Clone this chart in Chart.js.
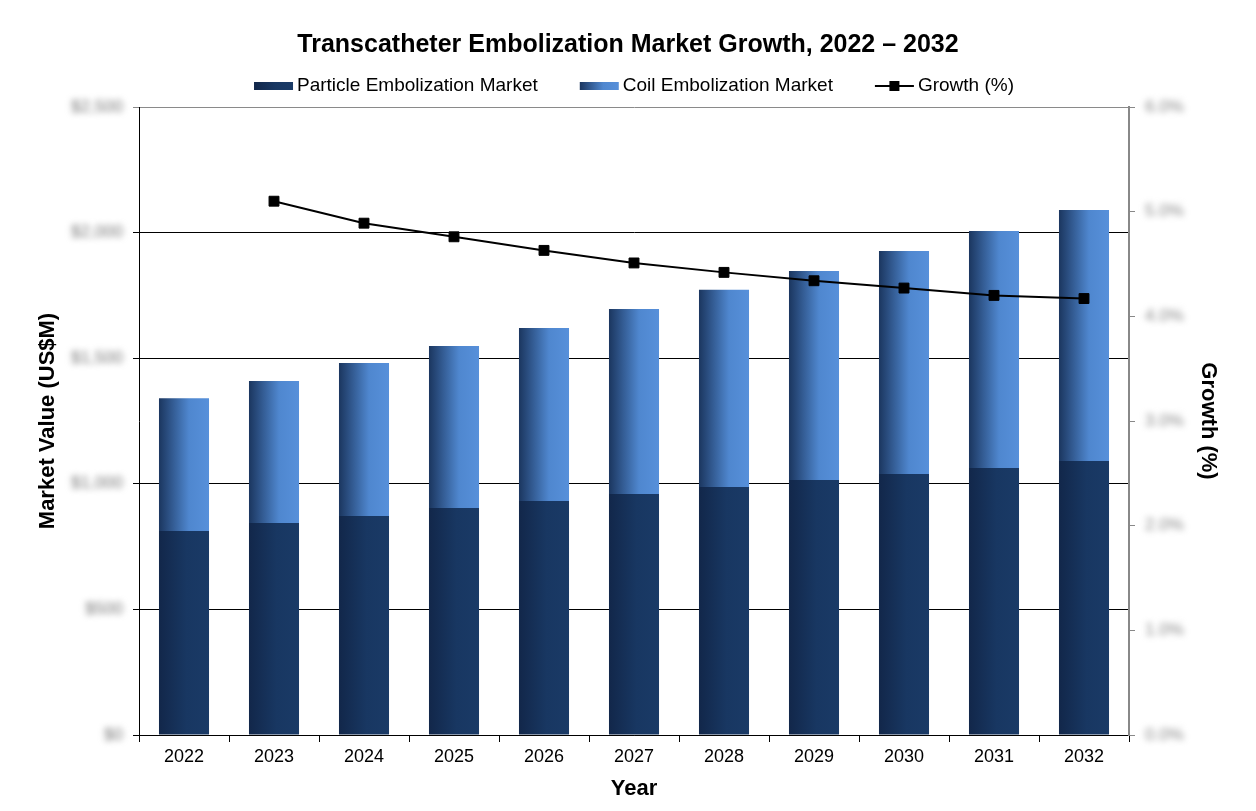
<!DOCTYPE html>
<html>
<head>
<meta charset="utf-8">
<title>Transcatheter Embolization Market Growth</title>
<script src="https://cdn.jsdelivr.net/npm/chart.js@4.4.0/dist/chart.umd.min.js"></script>
<style>
  html, body { margin: 0; padding: 0; background: #fff; }
  #wrap { width: 1256px; height: 811px; }
</style>
</head>
<body>
<div id="wrap"><canvas id="market"></canvas></div>
<script>
// values (US$M and %)
var years = ['2022', '2023', '2024', '2025', '2026', '2027', '2028', '2029', '2030', '2031', '2032'];
var particle = [812, 844, 872, 904, 932, 959, 987, 1015, 1039, 1063, 1091];
var coil = [529, 565, 609, 645, 688, 737, 785, 832, 888, 943, 999];
var growth = [null, 5.10, 4.89, 4.76, 4.63, 4.51, 4.42, 4.34, 4.27, 4.20, 4.17];
var valueTicks = [0, 500, 1000, 1500, 2000, 2500];
var growthTicks = [0, 1, 2, 3, 4, 5, 6];

var FONT = '"Liberation Sans", Arial, sans-serif';
var CAT = 0.556;
var particleStops = [[0, '#12274a'], [0.55, '#183762'], [1, '#1a3a66']];
var coilStops = [[0, '#1b365f'], [0.6, '#4f87cf'], [1, '#5790da']];

function barFill(stops) {
	return function(c) {
		var chart = c.chart, xs = chart.scales.x;
		if (!xs || c.dataIndex === undefined) return stops[1][1];
		var cx = xs.getPixelForValue(c.dataIndex);
		var w = xs.width / years.length * CAT;
		if (!isFinite(cx) || !isFinite(w) || w <= 0) return stops[1][1];
		var g = chart.ctx.createLinearGradient(cx - w / 2, 0, cx + w / 2, 0);
		stops.forEach(function(s) { g.addColorStop(s[0], s[1]); });
		return g;
	};
}

// the tick labels are smudged in the reference
var blurTicks = {
	id: 'blurTicks',
	beforeDraw: function(chart) {
		['y', 'y2'].forEach(function(id) {
			var s = chart.scales[id];
			if (!s || s._blurred) return;
			var orig = s.drawLabels;
			s.drawLabels = function(area) {
				var c = this.ctx;
				c.save();
				c.filter = 'blur(3px)';
				orig.call(this, area);
				c.restore();
			};
			s._blurred = true;
		});
	}
};

var legendRow = {
	id: 'legendRow',
	afterDraw: function(chart) {
		var ctx = chart.ctx, ds = chart.data.datasets;
		var items = [
			{ text: ds[1].label, stops: particleStops },
			{ text: ds[2].label, stops: coilStops },
			{ text: ds[0].label, line: true }
		];
		var boxW = 39, gap = 4, sep = 42, y = 86;
		ctx.save();
		ctx.font = '19px ' + FONT;
		var total = 0;
		items.forEach(function(it, i) {
			it.w = ctx.measureText(it.text).width;
			total += boxW + gap + it.w + (i ? sep : 0);
		});
		var x = (chart.chartArea.left + chart.chartArea.right) / 2 - total / 2;
		items.forEach(function(it) {
			if (it.line) {
				ctx.strokeStyle = '#000';
				ctx.lineWidth = 2;
				ctx.beginPath();
				ctx.moveTo(x, y);
				ctx.lineTo(x + boxW, y);
				ctx.stroke();
				ctx.fillStyle = '#000';
				ctx.fillRect(x + boxW / 2 - 5, y - 5, 10, 10);
			} else {
				var g = ctx.createLinearGradient(x, 0, x + boxW, 0);
				it.stops.forEach(function(s) { g.addColorStop(s[0], s[1]); });
				ctx.fillStyle = g;
				ctx.fillRect(x, y - 4, boxW, 8);
			}
			x += boxW + gap;
			ctx.fillStyle = '#000';
			ctx.textBaseline = 'middle';
			ctx.textAlign = 'left';
			ctx.fillText(it.text, x, y);
			x += it.w + sep;
		});
		ctx.restore();
	}
};

var ctx = document.getElementById('market').getContext('2d');
var chart = new Chart(ctx, {
	type: 'bar',
	data: {
		labels: years,
		datasets: [{
			type: 'line',
			label: 'Growth (%)',
			data: growth,
			yAxisID: 'y2',
			order: 0,
			borderColor: '#000',
			borderWidth: 2,
			pointStyle: 'rect',
			pointRadius: 7,
			pointBackgroundColor: '#000',
			pointBorderColor: '#000',
			pointBorderWidth: 1,
			tension: 0,
			spanGaps: false
		}, {
			label: 'Particle Embolization Market',
			data: particle,
			yAxisID: 'y',
			order: 1,
			backgroundColor: barFill(particleStops),
			barPercentage: 1,
			categoryPercentage: CAT
		}, {
			label: 'Coil Embolization Market',
			data: coil,
			yAxisID: 'y',
			order: 1,
			backgroundColor: barFill(coilStops),
			barPercentage: 1,
			categoryPercentage: CAT
		}]
	},
	options: {
		responsive: true,
		maintainAspectRatio: false,
		animation: false,
		layout: { padding: 0 },
		plugins: {
			legend: { display: false },
			tooltip: { enabled: false },
			title: {
				display: true,
				text: 'Transcatheter Embolization Market Growth, 2022 \u2013 2032',
				color: '#000',
				font: { family: FONT, size: 25, weight: 'bold' },
				padding: { top: 30, bottom: 47 }
			}
		},
		scales: {
			x: {
				stacked: true,
				offset: true,
				grid: { offset: true, drawOnChartArea: false, tickLength: 7, color: '#000' },
				border: { color: '#000', width: 1 },
				ticks: { color: '#000', font: { family: FONT, size: 18 }, padding: 4 },
				title: {
					display: true, text: 'Year', color: '#000',
					font: { family: FONT, size: 22, weight: 'bold' },
					padding: { top: 0, bottom: 9 }
				},
				afterFit: function(s) { s.height = 76; }
			},
			y: {
				stacked: true,
				position: 'left',
				min: 0,
				max: 2500,
				afterBuildTicks: function(s) { s.ticks = valueTicks.map(function(v) { return { value: v }; }); },
				grid: {
					color: function(c) { return c.tick && c.tick.value === 2500 ? '#8a8a8a' : '#000'; },
					tickLength: 6
				},
				border: { color: '#000', width: 1 },
				ticks: {
					color: '#777',
					font: { family: FONT, size: 17 },
					padding: 10,
					callback: function(v) { return '$' + v.toLocaleString('en-US'); }
				},
				title: {
					display: true, text: 'Market Value (US$M)', color: '#000',
					font: { family: FONT, size: 22, weight: 'bold' },
					padding: { top: 35, bottom: 0 }
				},
				afterFit: function(s) { s.width = 139; }
			},
			y2: {
				position: 'right',
				min: 0,
				max: 6,
				afterBuildTicks: function(s) { s.ticks = growthTicks.map(function(v) { return { value: v }; }); },
				grid: { drawOnChartArea: false, tickLength: 6, color: '#888' },
				border: { color: '#888', width: 2 },
				ticks: {
					color: '#888',
					font: { family: FONT, size: 17 },
					padding: 10,
					callback: function(v) { return v.toFixed(1) + '%'; }
				},
				title: {
					display: true, text: 'Growth (%)', color: '#000',
					font: { family: FONT, size: 22, weight: 'bold' },
					padding: { top: 35, bottom: 0 }
				},
				afterFit: function(s) { s.width = 127; }
			}
		}
	},
	plugins: [blurTicks, legendRow]
});
</script>
</body>
</html>
